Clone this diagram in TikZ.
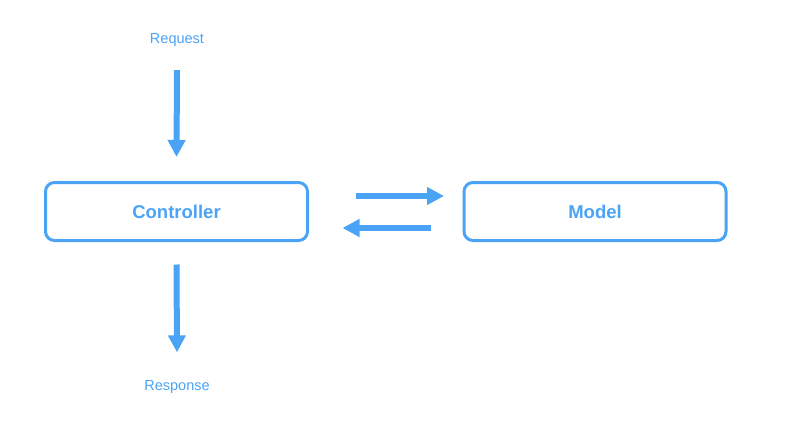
\documentclass[tikz,border=0pt]{standalone}
\usepackage{fontspec}
\setmainfont{Liberation Sans}
\usetikzlibrary{arrows.meta}
\definecolor{mvcblue}{HTML}{4AA3F5}
\begin{document}
\begin{tikzpicture}[
            x=1pt,
            y=-1pt,
            mvc box/.style={draw=mvcblue, line width=3pt, rounded corners=9pt, minimum width=262pt, minimum height=58pt, inner sep=0pt, outer sep=0pt, text=mvcblue, font=\fontsize{18.5}{22}\selectfont\bfseries},
            io label/.style={text=mvcblue, inner sep=0pt, font=\fontsize{14.5}{17}\selectfont},
            flow arrow/.style={draw=mvcblue, line width=6pt, -{Triangle[width=17pt,length=17pt]}}
        ]
        \useasboundingbox (0,0) rectangle (800,442);
        \node[mvc box] (controller) at (176.5,211.5) {Controller};
        \node[mvc box] (model) at (595,211.5) {Model};
        \node[io label] (request) at (177,40.5) {Request};
        \node[io label] (response) at (177,387.5) {Response};
        \draw[flow arrow] ([yshift=-23pt]request.south) -- ([yshift=25.5pt]controller.north);
        \draw[flow arrow] ([yshift=-24pt]controller.south) -- ([yshift=28.5pt]response.north);
        \draw[flow arrow] ([xshift=48pt,yshift=15.5pt]controller.east) -- ([xshift=-20pt,yshift=15.5pt]model.west);
        \draw[flow arrow] ([xshift=-33pt,yshift=-16.5pt]model.west) -- ([xshift=35pt,yshift=-16.5pt]controller.east);
    \end{tikzpicture}
\end{document}
